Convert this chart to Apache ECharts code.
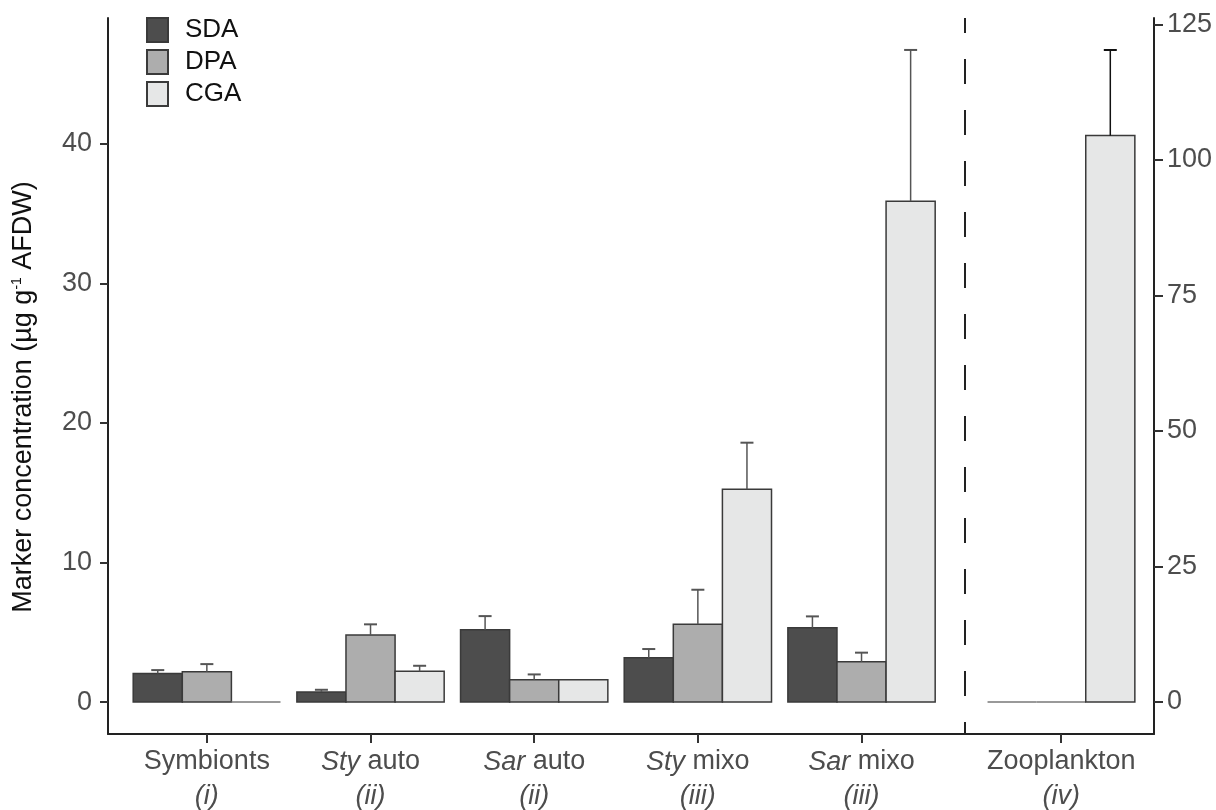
<!DOCTYPE html>
<html>
<head>
<meta charset="utf-8">
<script src="https://cdn.jsdelivr.net/npm/echarts@6/dist/echarts.min.js"></script>
<style>html,body{margin:0;padding:0;background:#fff}#chart{width:1216px;height:810px}</style>
</head>
<body>
<div id="chart"></div>
<script>
// ---- data ----
const categories = ['Symbionts', 'Sty auto', 'Sar auto', 'Sty mixo', 'Sar mixo', 'Zooplankton'];
const italicPart = ['', 'Sty', 'Sar', 'Sty', 'Sar', ''];
const plainPart = ['Symbionts', ' auto', ' auto', ' mixo', ' mixo', 'Zooplankton'];
const groupCodes = ['(i)', '(ii)', '(ii)', '(iii)', '(iii)', '(iv)'];
const groupPos = [1, 2, 3, 4, 5, 6.22];
const dividerPos = 5.63;
const sdaMean = [2.05, 0.72, 5.18, 3.18, 5.33, 0];
const sdaErr  = [0.24, 0.16, 0.98, 0.62, 0.81, 0];
const dpaMean = [2.17, 4.80, 1.60, 5.57, 2.89, 0];
const dpaErr  = [0.55, 0.77, 0.38, 2.48, 0.65, 0];
const cgaMean = [0, 2.20, 1.60, 15.25, 35.9];      // left axis groups
const cgaErr  = [0, 0.40, 0, 3.34, 10.84];
const zooCgaMean = [104.5];                          // right axis (Zooplankton)
const zooCgaErr  = [15.8];
const leftTicks = [0, 10, 20, 30, 40];
const rightTicks = [0, 25, 50, 75, 100, 125];

const colors = { SDA: '#4d4d4d', DPA: '#adadad', CGA: '#e6e7e7' };
const barW = 0.3;

function mk(pos, mean, err) {
  return mean.map((v, i) => [pos[i], v, err[i]]);
}

function makeRender(offset, fill, errColor) {
  return function (params, api) {
    const x = api.value(0), v = api.value(1), e = api.value(2);
    const w = api.size([barW, 0])[0];
    const p0 = api.coord([x + offset, 0]);
    const p1 = api.coord([x + offset, v]);
    const children = [];
    if (v > 0) {
      children.push({
        type: 'rect',
        shape: { x: p0[0] - w / 2, y: p1[1], width: w, height: p0[1] - p1[1] },
        style: { fill: fill, stroke: '#3a3a3a', lineWidth: 1.5 }
      });
    } else {
      children.push({
        type: 'line',
        shape: { x1: p0[0] - w / 2, y1: p0[1], x2: p0[0] + w / 2, y2: p0[1] },
        style: { stroke: '#777', lineWidth: 1.5 }
      });
    }
    if (e > 0) {
      const pe = api.coord([x + offset, v + e]);
      children.push({
        type: 'line',
        shape: { x1: p0[0], y1: p1[1], x2: p0[0], y2: pe[1] },
        style: { stroke: errColor, lineWidth: 1.5 }
      });
      children.push({
        type: 'line',
        shape: { x1: p0[0] - 6.5, y1: pe[1], x2: p0[0] + 6.5, y2: pe[1] },
        style: { stroke: errColor, lineWidth: 2 }
      });
    }
    return { type: 'group', children: children };
  };
}

const font = 'Liberation Sans, Arial, sans-serif';

const option = {
  animation: false,
  backgroundColor: '#fff',
  grid: { left: 108, right: 62, top: 18, bottom: 76 },
  legend: {
    data: ['SDA', 'DPA', 'CGA'],
    orient: 'vertical',
    left: 141, top: 12,
    itemWidth: 21, itemHeight: 24, itemGap: 6,
    icon: 'rect',
    textStyle: { fontFamily: font, fontSize: 26, color: '#111', padding: [0, 0, 0, 12], lineHeight: 24 }
  },
  xAxis: {
    type: 'value',
    min: 0.396, max: 6.787,
    splitLine: { show: false },
    axisLine: { show: true, onZero: false, lineStyle: { color: '#222', width: 2 } },
    axisTick: { show: true, length: 9, lineStyle: { color: '#333', width: 2 }, customValues: groupPos },
    axisLabel: {
      customValues: groupPos,
      margin: 11,
      formatter: function (val) {
        let idx = 0, best = 1e9;
        groupPos.forEach((p, i) => { if (Math.abs(p - val) < best) { best = Math.abs(p - val); idx = i; } });
        const first = italicPart[idx] ? '{it|' + italicPart[idx] + '}{n|' + plainPart[idx] + '}' : '{n|' + plainPart[idx] + '}';
        return first + '\n{it|' + groupCodes[idx] + '}';
      },
      rich: {
        n: { fontFamily: font, fontSize: 27, color: '#4d4d4d', lineHeight: 34 },
        it: { fontFamily: font, fontSize: 27, color: '#4d4d4d', fontStyle: 'italic', lineHeight: 34 }
      }
    }
  },
  yAxis: [
    {
      type: 'value', position: 'left',
      min: -2.29, max: 49.03,
      splitLine: { show: false },
      axisLine: { show: true, onZero: false, lineStyle: { color: '#222', width: 2 } },
      axisTick: { show: true, length: 8, lineStyle: { color: '#333', width: 2 }, customValues: leftTicks },
      axisLabel: { customValues: leftTicks, fontFamily: font, fontSize: 27, color: '#4d4d4d', margin: 16 },
      name: 'Marker concentration (µg g{sup|-1} AFDW)',
      nameLocation: 'middle',
      nameGap: 71,
      nameTextStyle: {
        fontFamily: font, fontSize: 27, color: '#111',
        padding: [0, 42, 0, 0],
        rich: { sup: { fontFamily: font, fontSize: 14, color: '#111', padding: [0, 0, 13, 0] } }
      }
    },
    {
      type: 'value', position: 'right',
      min: -5.9, max: 126.2,
      splitLine: { show: false },
      axisLine: { show: true, onZero: false, lineStyle: { color: '#222', width: 2 } },
      axisTick: { show: true, length: 9, lineStyle: { color: '#333', width: 2 }, customValues: rightTicks },
      axisLabel: { customValues: rightTicks, fontFamily: font, fontSize: 27, color: '#4d4d4d', margin: 13 }
    }
  ],
  series: [
    {
      name: 'SDA', type: 'custom', yAxisIndex: 0, clip: false,
      itemStyle: { color: colors.SDA, borderColor: '#3a3a3a', borderWidth: 1 },
      renderItem: makeRender(-barW, colors.SDA, '#555'),
      encode: { x: 0, y: 1 },
      data: mk(groupPos, sdaMean, sdaErr),
      markLine: {
        silent: true, symbol: 'none', label: { show: false },
        lineStyle: { color: '#222', width: 2, type: [25, 26], dashOffset: 13 },
        data: [{ xAxis: dividerPos }]
      }
    },
    {
      name: 'DPA', type: 'custom', yAxisIndex: 0, clip: false,
      itemStyle: { color: colors.DPA, borderColor: '#3a3a3a', borderWidth: 1 },
      renderItem: makeRender(0, colors.DPA, '#555'),
      encode: { x: 0, y: 1 },
      data: mk(groupPos, dpaMean, dpaErr)
    },
    {
      name: 'CGA', type: 'custom', yAxisIndex: 0, clip: false,
      itemStyle: { color: colors.CGA, borderColor: '#3a3a3a', borderWidth: 1 },
      renderItem: makeRender(barW, colors.CGA, '#555'),
      encode: { x: 0, y: 1 },
      data: mk(groupPos.slice(0, 5), cgaMean, cgaErr)
    },
    {
      name: 'CGA zooplankton', type: 'custom', yAxisIndex: 1, clip: false,
      itemStyle: { color: colors.CGA },
      renderItem: makeRender(barW, colors.CGA, '#111'),
      encode: { x: 0, y: 1 },
      data: mk(groupPos.slice(5), zooCgaMean, zooCgaErr)
    }
  ]
};

const chart = echarts.init(document.getElementById('chart'), null, { renderer: 'canvas' });
chart.setOption(option);
</script>
</body>
</html>
